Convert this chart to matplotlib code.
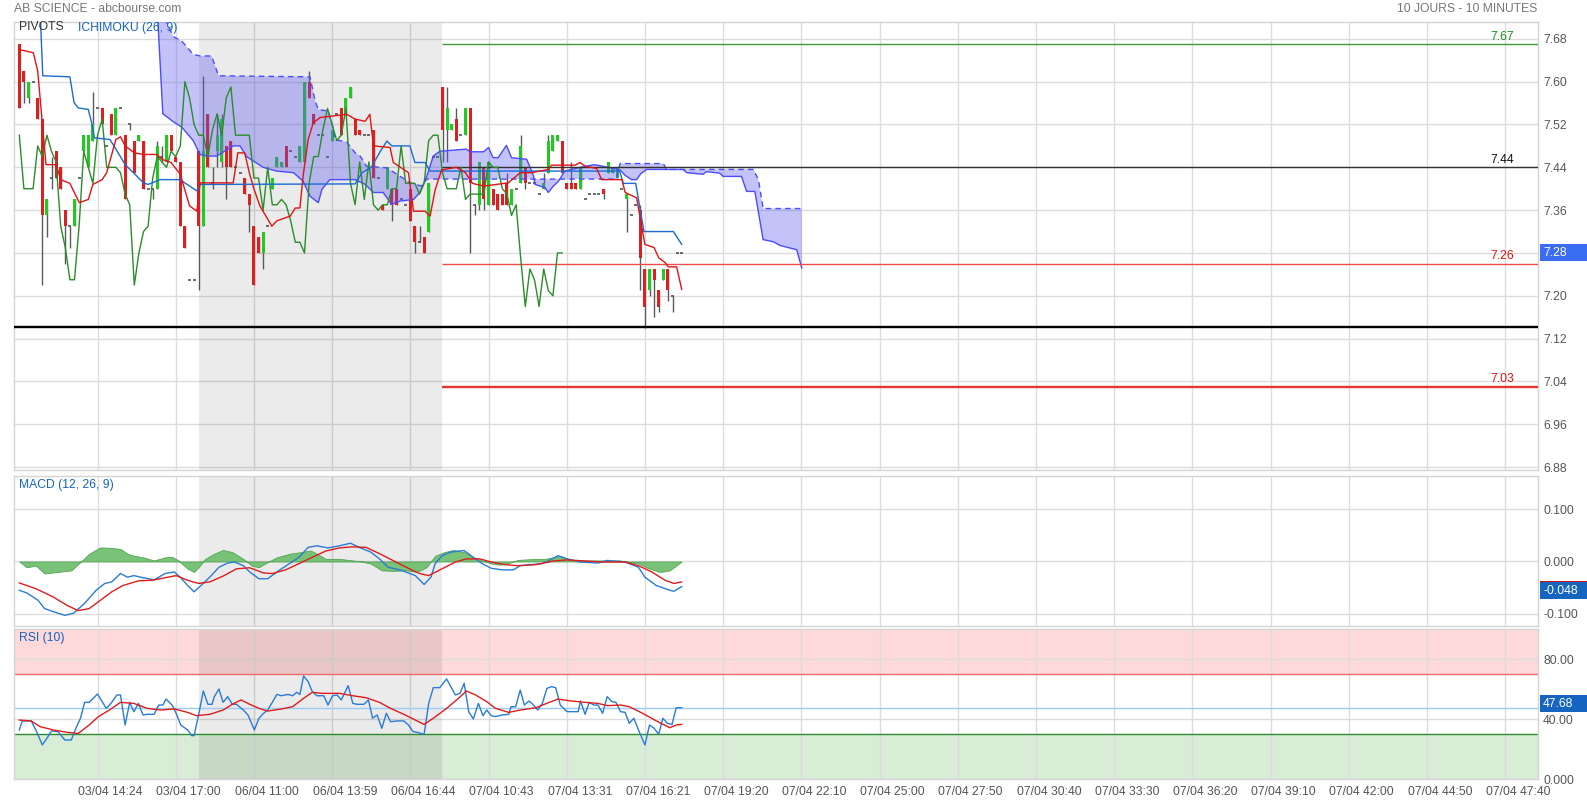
import numpy as np
import matplotlib
matplotlib.use("Agg")
import matplotlib.pyplot as plt
from matplotlib.patches import Polygon, Rectangle
from matplotlib.transforms import IdentityTransform, blended_transform_factory

plt.rcParams['font.family'] = ['Liberation Sans', 'DejaVu Sans']

# ---------------- data (bar index = 10-minute bars) ----------------
opens = [7.67, 7.62, 7.57, 7.60, 7.57, 7.53, 7.35, 7.42, 7.47, 7.44,
         7.36, 7.33, 7.33, 7.42, 7.47, 7.44, 7.49, 7.55, 7.55, 7.48,
         7.54, 7.50, 7.55, 7.50, 7.52, 7.49, 7.49, 7.49, 7.40, 7.40,
         7.40, 7.46, 7.45, 7.50, 7.46, 7.45, 7.33, 7.23, 7.23, 7.47,
         7.33, 7.54, 7.41, 7.47, 7.45, 7.48, 7.49, 7.44, 7.43, 7.42,
         7.39, 7.33, 7.31, 7.28, 7.33, 7.40, 7.44, 7.44, 7.48, 7.47,
         7.46, 7.45, 7.45, 7.60, 7.54, 7.50, 7.50, 7.46, 7.49, 7.54,
         7.55, 7.54, 7.57, 7.53, 7.51, 7.50, 7.50, 7.51, 7.42, 7.37,
         7.40, 7.40, 7.40, 7.38, 7.37, 7.40, 7.33, 7.30, 7.31, 7.32,
         7.46, 7.46, 7.59, 7.51, 7.51, 7.53, 7.50, 7.50, 7.55, 7.37,
         7.37, 7.44, 7.37, 7.40, 7.39, 7.39, 7.41, 7.37, 7.40, 7.41,
         7.44, 7.41, 7.41, 7.39, 7.40, 7.43, 7.47, 7.49, 7.49, 7.41,
         7.41, 7.41, 7.40, 7.38, 7.39, 7.39, 7.39, 7.40, 7.43, 7.43,
         7.42, 7.40, 7.38, 7.35, 7.37, 7.36, 7.25, 7.21, 7.25, 7.21,
         7.23, 7.25, 7.20, 7.28, 7.28]
highs = [7.67, 7.62, 7.60, 7.60, 7.57, 7.53, 7.38, 7.46, 7.47, 7.44,
         7.36, 7.33, 7.38, 7.42, 7.50, 7.50, 7.58, 7.55, 7.55, 7.48,
         7.54, 7.55, 7.55, 7.50, 7.52, 7.49, 7.50, 7.49, 7.40, 7.40,
         7.49, 7.48, 7.50, 7.50, 7.46, 7.45, 7.33, 7.23, 7.23, 7.47,
         7.61, 7.54, 7.44, 7.54, 7.54, 7.48, 7.49, 7.44, 7.43, 7.42,
         7.39, 7.33, 7.31, 7.32, 7.33, 7.42, 7.46, 7.45, 7.48, 7.47,
         7.46, 7.48, 7.60, 7.62, 7.54, 7.50, 7.50, 7.46, 7.51, 7.54,
         7.55, 7.57, 7.59, 7.53, 7.51, 7.50, 7.50, 7.51, 7.42, 7.37,
         7.44, 7.40, 7.40, 7.38, 7.37, 7.40, 7.33, 7.33, 7.31, 7.41,
         7.46, 7.46, 7.59, 7.59, 7.52, 7.55, 7.50, 7.55, 7.55, 7.37,
         7.45, 7.44, 7.45, 7.40, 7.39, 7.39, 7.43, 7.40, 7.40, 7.50,
         7.44, 7.41, 7.41, 7.39, 7.43, 7.50, 7.50, 7.50, 7.49, 7.41,
         7.45, 7.41, 7.44, 7.38, 7.39, 7.39, 7.39, 7.40, 7.45, 7.44,
         7.44, 7.40, 7.39, 7.35, 7.37, 7.37, 7.25, 7.25, 7.25, 7.21,
         7.25, 7.25, 7.20, 7.28, 7.28]
lows = [7.55, 7.56, 7.56, 7.60, 7.53, 7.22, 7.31, 7.40, 7.42, 7.40,
        7.26, 7.29, 7.33, 7.42, 7.47, 7.44, 7.49, 7.55, 7.52, 7.48,
        7.50, 7.50, 7.55, 7.38, 7.51, 7.43, 7.49, 7.40, 7.40, 7.38,
        7.40, 7.45, 7.45, 7.47, 7.45, 7.33, 7.29, 7.23, 7.23, 7.21,
        7.33, 7.44, 7.40, 7.44, 7.44, 7.38, 7.44, 7.44, 7.43, 7.39,
        7.32, 7.22, 7.28, 7.25, 7.33, 7.40, 7.44, 7.44, 7.44, 7.47,
        7.46, 7.45, 7.45, 7.57, 7.52, 7.50, 7.50, 7.46, 7.49, 7.54,
        7.50, 7.54, 7.57, 7.50, 7.50, 7.50, 7.50, 7.42, 7.42, 7.36,
        7.40, 7.34, 7.37, 7.38, 7.37, 7.34, 7.28, 7.30, 7.28, 7.32,
        7.46, 7.46, 7.45, 7.45, 7.51, 7.49, 7.50, 7.50, 7.28, 7.35,
        7.36, 7.36, 7.37, 7.37, 7.36, 7.37, 7.37, 7.37, 7.40, 7.41,
        7.40, 7.41, 7.41, 7.39, 7.40, 7.43, 7.47, 7.49, 7.43, 7.40,
        7.40, 7.40, 7.40, 7.38, 7.39, 7.39, 7.39, 7.38, 7.43, 7.43,
        7.42, 7.40, 7.32, 7.35, 7.37, 7.21, 7.14, 7.20, 7.16, 7.17,
        7.23, 7.19, 7.17, 7.28, 7.28]
closes = [7.55, 7.60, 7.60, 7.60, 7.53, 7.35, 7.38, 7.42, 7.42, 7.40,
          7.33, 7.33, 7.38, 7.42, 7.50, 7.50, 7.52, 7.55, 7.52, 7.48,
          7.50, 7.55, 7.55, 7.38, 7.52, 7.43, 7.50, 7.40, 7.40, 7.40,
          7.48, 7.46, 7.50, 7.47, 7.45, 7.33, 7.29, 7.23, 7.23, 7.33,
          7.47, 7.44, 7.41, 7.50, 7.53, 7.44, 7.44, 7.44, 7.43, 7.39,
          7.37, 7.22, 7.28, 7.32, 7.33, 7.42, 7.46, 7.45, 7.44, 7.47,
          7.46, 7.48, 7.60, 7.57, 7.52, 7.50, 7.50, 7.46, 7.51, 7.54,
          7.50, 7.57, 7.59, 7.50, 7.50, 7.50, 7.50, 7.42, 7.42, 7.36,
          7.44, 7.37, 7.37, 7.38, 7.37, 7.34, 7.30, 7.30, 7.28, 7.41,
          7.46, 7.46, 7.51, 7.55, 7.52, 7.49, 7.50, 7.55, 7.41, 7.37,
          7.45, 7.38, 7.45, 7.37, 7.36, 7.37, 7.37, 7.40, 7.40, 7.48,
          7.41, 7.41, 7.41, 7.39, 7.41, 7.49, 7.50, 7.50, 7.43, 7.40,
          7.40, 7.40, 7.44, 7.38, 7.39, 7.39, 7.39, 7.39, 7.45, 7.44,
          7.44, 7.40, 7.39, 7.35, 7.37, 7.27, 7.18, 7.25, 7.23, 7.18,
          7.25, 7.21, 7.20, 7.28, 7.28]
CHIKOU_SHIFT = 26

tenkan_x = [0, 3.05, 4.0, 5.0, 5.8, 8.0, 9.0, 11.0, 13.05, 15.0, 16.0, 18.0, 19.0, 21.0, 22.0,
            23.0, 25.0, 27.0, 29.9, 31.0, 33.0, 35.0, 37.0, 38.6, 39.3, 46.5, 47.5, 49, 50, 51,
            52.3, 54.9, 56, 58.9, 60, 61, 61.7, 62.8, 63.9, 65.4, 71.2, 73, 75.2, 76.2, 77,
            80.6, 81.3, 84.6, 85.7, 88.2, 89.3, 90.4, 91.8, 95, 97, 98.5, 101, 106.3, 108.9,
            111.4, 115, 115.7, 120.8, 121.9, 123, 125.5, 126.6, 131, 131.7, 134.2, 134.9, 136,
            138, 139, 140.4, 141.1, 142.9, 144]
tenkan_y = [7.660, 7.654, 7.62, 7.523, 7.445, 7.445, 7.417, 7.41, 7.374, 7.38, 7.408, 7.417, 7.43,
            7.492, 7.497, 7.48, 7.467, 7.464, 7.464, 7.455, 7.449, 7.427, 7.368, 7.358, 7.411,
            7.411, 7.467, 7.467, 7.43, 7.40, 7.368, 7.33, 7.34, 7.349, 7.364, 7.364, 7.424,
            7.492, 7.523, 7.533, 7.539, 7.53, 7.526, 7.539, 7.48, 7.477, 7.449, 7.43, 7.358,
            7.358, 7.349, 7.398, 7.435, 7.44, 7.43, 7.41, 7.405, 7.411, 7.43, 7.43, 7.436,
            7.444, 7.444, 7.449, 7.442, 7.438, 7.417, 7.417, 7.393, 7.383, 7.349, 7.296, 7.29,
            7.271, 7.262, 7.254, 7.254, 7.212]

kijun_x = [0, 4.4, 5.1, 11, 11.9, 12.8, 15, 15.9, 16.3, 19.7, 20.8, 23, 24.8, 27, 28, 30.6, 34.9,
           38.6, 39.3, 73, 74.5, 76.5, 78.5, 79.9, 81, 84.9, 86, 88.2, 89.3, 130.5, 131.3, 134,
           135.8, 142.2, 144]
kijun_y = [7.76, 7.76, 7.611, 7.609, 7.561, 7.551, 7.548, 7.517, 7.495, 7.492, 7.477, 7.445, 7.43,
           7.411, 7.408, 7.417, 7.417, 7.396, 7.408, 7.409, 7.43, 7.44, 7.47, 7.489, 7.48, 7.48,
           7.449, 7.449, 7.433, 7.433, 7.41, 7.41, 7.32, 7.32, 7.296]

senkou_a_x = [29.9, 31.2, 33.5, 35.3, 37.8, 39.3, 40.7, 42.9, 46.5, 48, 49.4, 53, 55.9, 59.6, 61.7,
              63.2, 65, 65.8, 67.5, 73, 75.2, 77, 79.1, 80.9, 82.8, 85.7, 87.1, 88.6, 90, 91.4,
              97.2, 98, 100.9, 102, 103, 104.1, 105.9, 107, 110.3, 111.8, 112.1, 114.3, 115,
              116.1, 117.2, 118.6, 122, 125, 128, 130.6, 131.7, 133.1, 134.2, 135.1, 136.4,
              144.3, 145.1, 148.7, 149.4, 152.3, 153, 157, 158.1, 159.9, 161.7, 163.9, 165.4,
              169, 170.1]
senkou_a_y = [7.75, 7.54, 7.525, 7.515, 7.49, 7.464, 7.461, 7.461, 7.48, 7.48, 7.46, 7.44, 7.433,
              7.43, 7.414, 7.386, 7.374, 7.399, 7.417, 7.417, 7.408, 7.393, 7.393, 7.371, 7.377,
              7.38, 7.393, 7.424, 7.461, 7.47, 7.474, 7.469, 7.469, 7.477, 7.458, 7.458, 7.481,
              7.458, 7.455, 7.424, 7.408, 7.402, 7.393, 7.405, 7.414, 7.433, 7.44, 7.445, 7.44,
              7.435, 7.425, 7.417, 7.417, 7.428, 7.436, 7.436, 7.43, 7.427, 7.432, 7.429, 7.423,
              7.423, 7.395, 7.395, 7.305, 7.301, 7.294, 7.286, 7.252]
senkou_b_x = [29.9, 33.5, 35.3, 37.8, 39.3, 41.8, 43.3, 63.2, 64.3, 65, 67.2, 68.3, 68.6, 71.2, 73,
              74.1, 75.5, 79.9, 81, 85, 87.4, 88.6, 129.8, 130.6, 140, 140.7, 159.6, 160.7, 161.7,
              170.1]
senkou_b_y = [7.75, 7.684, 7.676, 7.651, 7.648, 7.648, 7.611, 7.609, 7.564, 7.548, 7.545, 7.511,
              7.492, 7.487, 7.467, 7.461, 7.442, 7.439, 7.433, 7.411, 7.405, 7.418, 7.418, 7.447,
              7.447, 7.436, 7.436, 7.416, 7.363, 7.363]

pivot_values = [7.67, 7.44, 7.26, 7.03]
pivot_text_colors = ['#1f8f1f', '#111111', '#e81010', '#e81010']
pivot_line_colors = ['#3c9c3c', '#333333', '#f24a4a', '#e93434']
pivot_line_widths = [1.0, 1.0, 1.0, 1.7]
support_level = 7.142
last_price = 7.28

macd_x = [0, 1.6, 4.05, 5.5, 7.4, 9.9, 11.8, 14.2, 16.7, 18.6, 20.1, 22.0, 23.5, 24.9, 26.9, 29.3,
          31.7, 33.7, 35.1, 36.6, 38.0, 39.5, 41.4, 43.4, 45.3, 46.8, 48.7, 50.1, 52.1, 54.0, 56.5,
          58.9, 60.8, 62.8, 64.7, 67.1, 69.6, 72.0, 73.9, 76.4, 78.3, 80.2, 83.1, 86.1, 88.0, 89.5,
          90.4, 91.9, 93.8, 96.7, 98.7, 100.6, 102.6, 105.0, 107.4, 108.9, 111.3, 113.7, 115.2,
          117.1, 119.1, 122.0, 125.8, 127.8, 131.7, 134.6, 136.0, 138.5, 141.4, 142.3, 144.0]
macd_y = [-0.055, -0.060, -0.074, -0.090, -0.096, -0.103, -0.099, -0.080, -0.055, -0.042, -0.039,
          -0.023, -0.030, -0.027, -0.031, -0.035, -0.023, -0.020, -0.031, -0.046, -0.058, -0.046,
          -0.030, -0.011, -0.003, -0.001, -0.008, -0.020, -0.033, -0.033, -0.017, -0.003, 0.008,
          0.027, 0.030, 0.026, 0.030, 0.035, 0.027, 0.018, 0.005, -0.011, -0.017, -0.027, -0.044,
          -0.030, -0.004, 0.011, 0.018, 0.021, 0.008, -0.004, -0.013, -0.016, -0.016, -0.008,
          -0.006, -0.004, 0.002, 0.011, 0.005, -0.001, -0.003, 0.002, -0.001, -0.011, -0.030,
          -0.046, -0.055, -0.057, -0.048]
signal_x = [0, 3.6, 7.4, 10.4, 12.8, 15.2, 17.2, 20.1, 22.5, 25.9, 28.8, 31.7, 34.1, 36.6, 39.0,
            41.4, 44.3, 47.2, 50.1, 53.1, 55.0, 57.9, 60.8, 63.7, 66.6, 69.6, 72.5, 75.4, 78.3,
            81.2, 84.1, 87.0, 89.0, 91.9, 94.8, 97.2, 100.1, 102.6, 105.5, 108.4, 112.3, 116.1,
            119.1, 123.0, 126.8, 131.7, 134.6, 137.5, 140.4, 142.3, 144.0]
signal_y = [-0.041, -0.052, -0.068, -0.084, -0.094, -0.090, -0.077, -0.058, -0.046, -0.037, -0.036,
            -0.031, -0.027, -0.036, -0.042, -0.039, -0.028, -0.014, -0.012, -0.022, -0.023, -0.016,
            -0.004, 0.008, 0.020, 0.026, 0.028, 0.027, 0.015, 0.002, -0.011, -0.023, -0.027,
            -0.014, -0.001, 0.005, 0.005, -0.001, -0.006, -0.008, -0.006, 0.001, 0.003, 0.001,
            -0.001, -0.001, -0.008, -0.020, -0.036, -0.042, -0.039]
hist_x = [0, 1.6, 3.6, 5.5, 8.4, 11.3, 13.3, 15.2, 17.6, 20.1, 22.0, 23.5, 24.9, 26.9, 29.3, 31.7,
          33.2, 34.6, 36.6, 38.0, 39.0, 40.4, 42.4, 44.3, 46.3, 48.7, 50.6, 52.1, 54.0, 56.0, 58.9,
          61.3, 63.3, 64.7, 66.6, 69.6, 72.5, 74.4, 76.4, 78.8, 81.2, 84.1, 86.5, 88.5, 90.4, 92.4,
          94.3, 96.7, 98.7, 100.6, 102.6, 104.5, 106.4, 108.4, 110.3, 112.3, 114.2, 116.1, 117.6,
          119.1, 121.0, 123.9, 127.8, 130.7, 132.6, 134.6, 136.5, 138.5, 139.4, 141.4, 142.8, 144.0]
hist_y = [0, -0.011, -0.008, -0.023, -0.020, -0.017, -0.001, 0.015, 0.027, 0.026, 0.024, 0.015,
          0.011, 0.008, 0.002, 0.008, 0.009, 0.002, -0.014, -0.020, -0.011, 0.005, 0.015, 0.022,
          0.018, 0.005, -0.008, -0.011, -0.001, 0.008, 0.015, 0.018, 0.021, 0.015, 0.005, 0.005,
          0.002, 0.0, -0.004, -0.017, -0.018, -0.017, -0.020, -0.011, 0.011, 0.018, 0.022, 0.018,
          0.008, 0.002, -0.004, -0.006, -0.003, 0.003, 0.004, 0.005, 0.005, 0.008, 0.011, 0.005,
          0.002, 0.002, 0.002, 0.002, -0.001, -0.004, -0.012, -0.018, -0.020, -0.017, -0.008, 0.0]
macd_last = -0.048

rsi_x = [0, 0.66, 2.6, 3.6, 5.0, 6.0, 7.0, 8.4, 9.9, 11.3, 12.3, 13.3, 14.2, 15.2, 17.0, 18.1, 18.9,
         20.1, 21.2, 22.0, 23.0, 24.0, 24.9, 25.9, 26.9, 27.8, 29.3, 30.3, 31.2, 31.9, 33.2, 34.1,
         35.1, 36.6, 37.5, 38.0, 39.0, 40.0, 41.0, 41.9, 42.4, 43.4, 44.3, 45.3, 46.3, 47.2, 48.7,
         49.7, 51.1, 52.1, 53.1, 54.0, 55.0, 56.0, 57.0, 58.4, 59.4, 60.3, 61.0, 61.8, 62.8, 63.7,
         64.7, 66.2, 67.1, 68.1, 69.1, 70.0, 71.5, 72.5, 73.4, 74.9, 75.9, 76.8, 77.8, 78.8, 79.8,
         80.7, 82.2, 83.6, 84.6, 85.6, 86.5, 88.0, 89.0, 90.0, 91.4, 92.9, 93.8, 94.8, 95.8, 96.7,
         97.7, 98.7, 99.8, 100.8, 101.6, 102.6, 103.5, 105.0, 106.4, 106.9, 107.9, 108.9, 109.8,
         110.8, 111.8, 112.7, 113.7, 114.7, 115.7, 116.6, 117.6, 119.1, 120.5, 121.5, 122.0, 123.0,
         123.9, 124.9, 125.8, 126.8, 127.8, 128.8, 129.7, 130.7, 131.7, 132.6, 133.6, 134.6, 136.0,
         137.0, 138.0, 139.0, 139.9, 140.9, 141.9, 142.8, 144.0]
rsi_y = [32.9, 38.9, 38.9, 32.9, 22.9, 27.3, 32.2, 31.8, 26.2, 26.2, 34.0, 40.7, 51.3, 51.3, 56.9,
         51.3, 47.3, 51.3, 56.2, 56.2, 36.2, 51.3, 45.1, 50.6, 42.9, 43.3, 43.3, 49.5, 49.5, 53.5,
         49.5, 44.0, 36.2, 32.9, 29.1, 29.1, 43.3, 58.9, 50.0, 50.0, 55.1, 60.2, 51.3, 55.1, 50.0,
         50.0, 46.2, 42.9, 32.9, 40.7, 44.0, 46.2, 51.3, 56.6, 55.7, 56.6, 55.7, 58.0, 56.6, 68.9,
         65.1, 58.4, 55.7, 55.7, 49.5, 55.7, 56.2, 52.9, 62.4, 50.6, 50.0, 50.0, 52.9, 40.7, 42.9,
         34.0, 44.0, 38.4, 38.9, 38.9, 36.2, 31.8, 31.3, 30.0, 50.6, 61.1, 61.1, 66.9, 61.8, 56.2,
         57.3, 64.0, 45.1, 40.2, 50.6, 42.4, 46.2, 42.4, 41.8, 42.9, 43.3, 48.4, 48.4, 59.5, 49.5,
         52.2, 49.5, 46.2, 50.6, 60.6, 61.8, 61.1, 49.5, 45.1, 45.1, 45.1, 52.2, 43.3, 51.3, 49.5,
         49.5, 44.0, 55.1, 51.8, 51.3, 45.1, 44.6, 37.3, 40.7, 32.9, 22.9, 36.2, 34.0, 30.0, 40.7,
         37.3, 36.6, 47.68, 47.68]
rsima_x = [0, 2.6, 4.5, 7.4, 10.4, 12.8, 15.2, 17.2, 19.6, 22.0, 24.9, 27.8, 30.7, 33.7, 36.6, 38.5,
           41.4, 44.3, 46.3, 48.2, 50.1, 52.1, 54.0, 57.0, 59.4, 61.8, 63.7, 65.7, 69.6, 72.5, 75.4,
           78.3, 80.7, 83.6, 86.1, 88.0, 90.0, 92.9, 95.3, 97.2, 99.2, 101.6, 103.5, 106.4, 108.9,
           112.3, 115.2, 117.1, 120.0, 123.0, 125.8, 127.8, 130.7, 132.6, 135.5, 138.5, 141.4,
           142.8, 144.0]
rsima_y = [39.5, 38.9, 35.1, 32.9, 31.3, 30.6, 36.2, 41.8, 46.2, 51.3, 50.6, 47.3, 46.2, 46.9, 44.6,
           42.4, 43.3, 46.2, 50.0, 52.9, 50.0, 47.3, 45.5, 46.9, 48.4, 54.0, 58.0, 57.3, 57.3, 55.7,
           54.4, 51.3, 47.3, 43.3, 39.5, 36.6, 40.7, 47.3, 53.5, 58.9, 56.2, 51.8, 47.3, 44.6, 46.2,
           47.7, 51.3, 53.5, 52.2, 51.3, 50.6, 49.1, 49.5, 48.4, 44.0, 38.9, 34.4, 36.2, 36.6]
rsi_last = 47.68

x_labels = ['03/04 14:24', '03/04 17:00', '06/04 11:00', '06/04 13:59', '06/04 16:44',
            '07/04 10:43', '07/04 13:31', '07/04 16:21', '07/04 19:20', '07/04 22:10',
            '07/04 25:00', '07/04 27:50', '07/04 30:40', '07/04 33:30', '07/04 36:20',
            '07/04 39:10', '07/04 42:00', '07/04 44:50', '07/04 47:40']
price_ticks = [6.88, 6.96, 7.04, 7.12, 7.20, 7.28, 7.36, 7.44, 7.52, 7.60, 7.68]
macd_ticks = [-0.1, 0.0, 0.1]
rsi_ticks = [0, 40, 80]

# ---------------- layout ----------------
W, H = 1587, 802
fig = plt.figure(figsize=(W / 100, H / 100), dpi=100)
fig.patch.set_facecolor('white')


def rect(top, bottom, left=14.3, right=1538.0):
    return [left / W, 1 - bottom / H, (right - left) / W, (bottom - top) / H]


ax = fig.add_axes(rect(21.7, 470.0))
axm = fig.add_axes(rect(476.0, 625.7))
axr = fig.add_axes(rect(629.3, 779.3))

XLIM = (-1.087, 330.15)
GRID_X = [17 * k for k in range(1, 20)]
SHADE = (39.0, 91.8)
TXT = '#555555'
FS = 8.7

for a in (ax, axm, axr):
    a.set_xlim(*XLIM)
    a.set_xticks(GRID_X)
    a.set_axisbelow(True)
    a.grid(True, color='#dcdcdc', lw=1.0)
    for s in a.spines.values():
        s.set_color('#d4d4d4')
        s.set_linewidth(1.0)
    a.tick_params(axis='both', length=0, labelsize=FS, labelcolor=TXT, pad=3.6,
                  left=False, labelleft=False, right=False, labelright=True,
                  bottom=False, labelbottom=False)
    a.axvspan(*SHADE, color='black', alpha=0.078, lw=0, zorder=1)

# ---------------- main price panel ----------------
ax.set_ylim(6.8746, 7.712)
ax.set_yticks(price_ticks)
ax.set_yticklabels([f'{v:.2f}' for v in price_ticks])

o = np.array(opens)
h = np.array(highs)
l = np.array(lows)
c = np.array(closes)
x = np.arange(len(c))
up = c > o
dn = c < o
dj = c == o
ax.vlines(x, l, h, color='#5a5a5a', lw=1.0, zorder=2)
ax.bar(x[up], (c - o)[up], bottom=o[up], width=0.68, color='#22c922', lw=0, zorder=2.5)
ax.bar(x[dn], (o - c)[dn], bottom=c[dn], width=0.68, color='#dd1f1f', lw=0, zorder=2.5)
ax.hlines(c[dj], x[dj] - 0.34, x[dj] + 0.34, color='#444444', lw=1.1, zorder=2.5)

# ichimoku cloud
poly = np.column_stack([np.r_[senkou_a_x, senkou_b_x[::-1]],
                        np.r_[senkou_a_y, senkou_b_y[::-1]]])
ax.add_patch(Polygon(poly, closed=True, fc='#5a5af0', alpha=0.36, ec='none', zorder=3))
ax.plot(senkou_a_x, senkou_a_y, color='#4b4bff', lw=1.0, zorder=3.5)
ax.plot(senkou_b_x, senkou_b_y, color='#4b4bff', lw=1.0, ls=(0, (4, 3)), zorder=3.5)

# chikou, tenkan, kijun
n_ch = len(c) - CHIKOU_SHIFT
ax.plot(x[:n_ch], c[CHIKOU_SHIFT:], color='#2a8c2a', lw=1.0, zorder=4)
ax.plot(tenkan_x, tenkan_y, color='#e01414', lw=1.0, zorder=4.2)
ax.plot(kijun_x, kijun_y, color='#1a6bd4', lw=1.0, zorder=4.1)

# pivots
for val, tc, lc, lw in zip(pivot_values, pivot_text_colors, pivot_line_colors, pivot_line_widths):
    ax.hlines(val, SHADE[1], XLIM[1], color=lc, lw=lw, zorder=3.8)
    ax.annotate(f'{val:.2f}', (324.9, val), xytext=(0, 1.0), textcoords='offset points',
                ha='right', va='bottom', color=tc, fontsize=FS, zorder=6)
ax.axhline(support_level, color='black', lw=1.7, zorder=3.8)

ax.text(19.3 / W, 1 - 27.5 / H, 'PIVOTS', transform=fig.transFigure, color='#333333',
        fontsize=FS, va='center', ha='left', zorder=7)
ax.text(78.3 / W, 1 - 27.5 / H, 'ICHIMOKU (26, 9)', transform=fig.transFigure, color='#1565c0',
        fontsize=FS, va='center', ha='left', zorder=7)

# ---------------- MACD panel ----------------
axm.set_ylim(-0.1228, 0.1635)
axm.set_yticks(macd_ticks)
axm.set_yticklabels([f'{v:.3f}' for v in macd_ticks])
axm.fill_between(hist_x, 0, hist_y, color='#72c072', alpha=0.95, lw=0.6, edgecolor='#4ea24e',
                 zorder=2)
axm.plot(macd_x, macd_y, color='#2a7bd6', lw=1.0, zorder=3)
axm.plot(signal_x, signal_y, color='#e01c1c', lw=1.0, zorder=3.1)
axm.text(18.7 / W, 1 - 485 / H, 'MACD (12, 26, 9)', transform=fig.transFigure, color='#1565c0',
         fontsize=FS, va='center', ha='left')

# ---------------- RSI panel ----------------
axr.set_ylim(0, 100)
axr.set_yticks(rsi_ticks)
axr.set_yticklabels(['0.000', '40.00', '80.00'])
axr.axhspan(70, 100, color='#fdd9d9', lw=0, zorder=0.2)
axr.axhspan(0, 30, color='#d9ecd6', lw=0, zorder=0.2)
axr.axhline(70, color='#ef6a6a', lw=1.0, zorder=1.5)
axr.axhline(30, color='#2e8b2e', lw=1.0, zorder=1.5)
axr.axhline(rsi_last, color='#9ccbf6', lw=1.0, zorder=1.5)
axr.plot(rsi_x, rsi_y, color='#2a7bd6', lw=1.0, zorder=3)
axr.plot(rsima_x, rsima_y, color='#e01c1c', lw=1.0, zorder=3.1)
axr.text(18.7 / W, 1 - 637.5 / H, 'RSI (10)', transform=fig.transFigure, color='#1565c0',
         fontsize=FS, va='center', ha='left')

# ---------------- x labels ----------------
trans = blended_transform_factory(axr.transData, fig.transFigure)
for gx, lab in zip(GRID_X, x_labels):
    axr.text(gx + 2.83, 1 - 792 / H, lab, transform=trans, ha='center', va='center',
             fontsize=FS, color=TXT, clip_on=False)

# ---------------- header ----------------
fig.text(14.3 / W, 1 - 8.5 / H, 'AB SCIENCE - abcbourse.com', color='#777777', fontsize=FS,
         va='center', ha='left')
fig.text(1537 / W, 1 - 8.5 / H, '10 JOURS - 10 MINUTES', color='#777777', fontsize=FS,
         va='center', ha='right')


# ---------------- value boxes ----------------
def value_box(a, val, txt, fc, dy=0.0):
    yc = a.transData.transform((0, val))[1] - dy
    bh = 17
    fig.add_artist(Rectangle((1540, yc - bh / 2), W - 1540, bh, transform=IdentityTransform(),
                             fc=fc, ec='none', zorder=5))
    fig.text(1543 / W, yc / H, txt, color='white', fontsize=FS, va='center', ha='left', zorder=6)


value_box(ax, last_price, f'{last_price:.2f}', '#3a6cf4')
ys = axm.transData.transform((0, signal_y[-1]))[1]
fig.add_artist(Rectangle((1540, ys - 9), W - 1540, 9.5, transform=IdentityTransform(),
                         fc='#cc1111', ec='none', zorder=4.5))
value_box(axm, macd_last, f'{macd_last:.3f}', '#1565c0', dy=4)
value_box(axr, rsi_last, f'{rsi_last:.2f}', '#1565c0', dy=-4)

fig.savefig('out.png', dpi=100)
